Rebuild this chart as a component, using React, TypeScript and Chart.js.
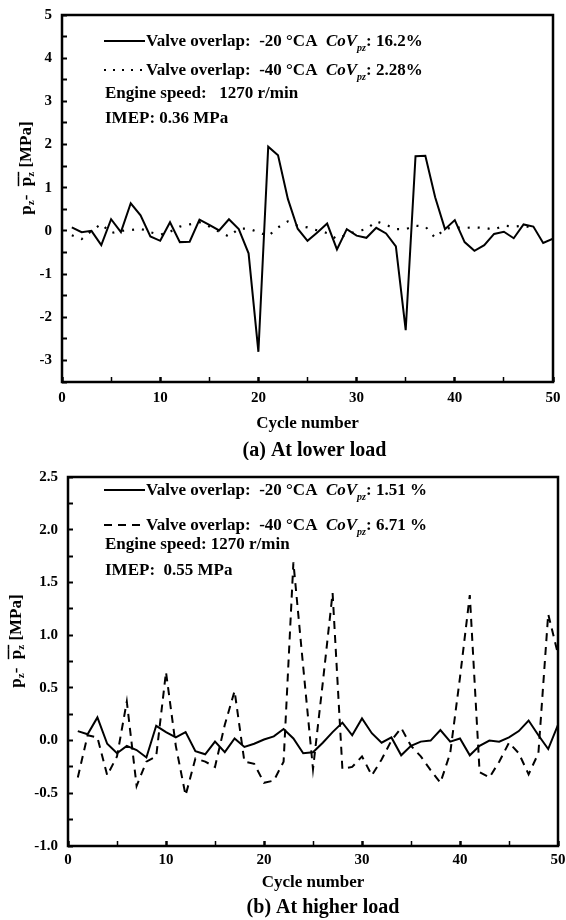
import React, { useEffect, useRef } from 'react';
import { Chart, registerables } from 'chart.js';

Chart.register(...registerables);

// ---------------- data ----------------
const cycles = [
  1, 2, 3, 4, 5, 6, 7, 8, 9, 10,
  11, 12, 13, 14, 15, 16, 17, 18, 19, 20,
  21, 22, 23, 24, 25, 26, 27, 28, 29, 30,
  31, 32, 33, 34, 35, 36, 37, 38, 39, 40,
  41, 42, 43, 44, 45, 46, 47, 48, 49, 50,
];

// (a) lower load, valve overlap -20 °CA (solid)
const lowLoadOverlap20 = [
  0.08, -0.03, 0.0, -0.33, 0.27, -0.03, 0.64, 0.36, -0.13, -0.23,
  0.2, -0.26, -0.25, 0.26, 0.14, 0.01, 0.27, 0.04, -0.52, -2.8,
  1.95, 1.75, 0.74, 0.05, -0.23, -0.04, 0.17, -0.43, 0.04, -0.11,
  -0.16, 0.07, -0.06, -0.36, -2.3, 1.73, 1.74, 0.78, 0.04, 0.25,
  -0.26, -0.46, -0.33, -0.07, -0.02, -0.17, 0.15, 0.1, -0.28, -0.18,
];

// (a) lower load, valve overlap -40 °CA (dotted)
const lowLoadOverlap40 = [
  -0.1, -0.19, 0.0, 0.16, -0.05, 0.0, 0.02, 0.05, -0.03, -0.09,
  -0.02, 0.1, 0.15, 0.2, 0.1, -0.02, -0.13, 0.05, 0.05, -0.03,
  -0.12, 0.08, 0.22, 0.12, 0.08, 0.01, -0.05, -0.19, -0.08, -0.01,
  0.04, 0.22, 0.14, 0.04, 0.04, 0.12, 0.1, -0.16, 0.05, 0.08,
  0.07, 0.08, 0.07, 0.03, 0.12, 0.1, 0.12, 0.06,
];

// (b) higher load, valve overlap -20 °CA (solid)
const highLoadOverlap20 = [
  0.09, 0.06, 0.22, -0.03, -0.12, -0.05, -0.09, -0.16, 0.14, 0.08,
  0.03, 0.08, -0.1, -0.13, -0.01, -0.11, 0.02, -0.06, -0.03, 0.01,
  0.04, 0.11, 0.02, -0.12, -0.11, -0.02, 0.08, 0.17, 0.05, 0.21,
  0.07, -0.02, 0.03, -0.14, -0.05, -0.01, 0.0, 0.1, -0.01, 0.02,
  -0.14, -0.05, 0.0, -0.01, 0.03, 0.09, 0.19, 0.05, -0.08, 0.15,
];

// (b) higher load, valve overlap -40 °CA (dashed)
const highLoadOverlap40 = [
  -0.35, 0.05, 0.03, -0.33, -0.15, 0.37, -0.43, -0.2, -0.15, 0.65,
  -0.05, -0.52, -0.17, -0.2, -0.25, 0.15, 0.47, -0.2, -0.22, -0.4,
  -0.38, -0.2, 1.69, 0.7, -0.27, 0.55, 1.4, -0.27, -0.25, -0.15,
  -0.33, -0.18, 0.0, 0.12, -0.05, -0.15, -0.28, -0.4, -0.12, 0.6,
  1.38, -0.3, -0.35, -0.2, -0.02, -0.12, -0.32, -0.12, 1.2, 0.82,
];

const xTickLabels = [0, 10, 20, 30, 40, 50];
const lowLoadYTicks = [5, 4, 3, 2, 1, 0, -1, -2, -3];
const highLoadYTicks = [2.5, 2.0, 1.5, 1.0, 0.5, 0.0, -0.5, -1.0];

const lowLoadCov = ['16.2%', '2.28%'];
const highLoadCov = ['1.51 %', '6.71 %'];

// ---------------- drawing helpers ----------------
const SERIF = '"Liberation Serif", "Times New Roman", Times, serif';
const LEGEND_SIZE = 17;

type Run = { t: string; italic?: boolean; size?: number; dy?: number; overline?: boolean };

function fontStr(size: number, italic?: boolean) {
  return `${italic ? 'italic ' : ''}bold ${size}px ${SERIF}`;
}

function runsWidth(ctx: CanvasRenderingContext2D, runs: Run[], base: number) {
  let w = 0;
  for (const r of runs) {
    ctx.font = fontStr(r.size ?? base, r.italic);
    w += ctx.measureText(r.t).width;
  }
  return w;
}

function drawRuns(ctx: CanvasRenderingContext2D, x: number, y: number, runs: Run[], base: number) {
  let cx = x;
  for (const r of runs) {
    const size = r.size ?? base;
    ctx.font = fontStr(size, r.italic);
    ctx.fillText(r.t, cx, y + (r.dy ?? 0));
    const w = ctx.measureText(r.t).width;
    if (r.overline) {
      ctx.fillRect(cx, y - base * 0.78, w, 1.5);
    }
    cx += w;
  }
}

const yTitleRuns: Run[] = [
  { t: 'p' },
  { t: 'z', size: 11, dy: 3 },
  { t: '-  ' },
  { t: 'p', overline: true },
  { t: 'z', size: 11, dy: 3, overline: true },
  { t: ' [MPa]' },
];

type Sample = { dash: number[]; y: number };
type LegendRow = { x: number; y: number; runs: Run[]; sample?: Sample };

type Panel = {
  id: string;
  series: { values: number[]; dash: number[]; width: number }[];
  yMin: number;
  yMax: number;
  yStep: number;
  yLabels: number[];
  yFmt: (v: number) => string;
  top: number;
  padRight: number;
  yAxisWidth: number;
  xAxisHeight: number;
  xTickPad: number;
  yTickPad: number;
  xTitlePad: number;
  yTitle: { x: number; y: number };
  caption: string;
  captionY: number;
  captionShift: number;
  legend: LegendRow[];
};

function covRuns(prefix: string, value: string): Run[] {
  return [
    { t: prefix },
    { t: 'CoV', italic: true },
    { t: 'pz', italic: true, size: 10, dy: 5 },
    { t: ': ' + value },
  ];
}

function decorPlugin(p: Panel) {
  return {
    id: 'decor' + p.id,
    afterDraw(chart: Chart) {
      const { ctx, chartArea: a } = chart;
      ctx.save();
      ctx.strokeStyle = '#000';
      ctx.fillStyle = '#000';
      ctx.lineWidth = 2.5;
      ctx.setLineDash([]);
      ctx.strokeRect(a.left, a.top, a.right - a.left, a.bottom - a.top);

      ctx.textAlign = 'left';
      ctx.textBaseline = 'alphabetic';
      for (const row of p.legend) {
        if (row.sample) {
          ctx.beginPath();
          ctx.lineWidth = 2;
          ctx.setLineDash(row.sample.dash);
          ctx.moveTo(row.x - 42, row.sample.y);
          ctx.lineTo(row.x - 1, row.sample.y);
          ctx.stroke();
          ctx.setLineDash([]);
        }
        drawRuns(ctx, row.x, row.y, row.runs, LEGEND_SIZE);
      }

      ctx.save();
      ctx.translate(p.yTitle.x, p.yTitle.y);
      ctx.rotate(-Math.PI / 2);
      const w = runsWidth(ctx, yTitleRuns, 17);
      drawRuns(ctx, -w / 2, 5, yTitleRuns, 17);
      ctx.restore();

      ctx.font = fontStr(20);
      ctx.textAlign = 'center';
      ctx.textBaseline = 'middle';
      ctx.fillText(p.caption, (a.left + a.right) / 2 + p.captionShift, p.captionY);
      ctx.restore();
    },
  };
}

function matchLabel(labels: number[], v: number) {
  return labels.find((l) => Math.abs(l - v) < 1e-6);
}

function makeConfig(p: Panel): any {
  return {
    type: 'line',
    data: {
      datasets: p.series.map((s) => ({
        data: s.values.map((v, i) => ({ x: cycles[i], y: v })),
        borderColor: '#000',
        borderWidth: s.width,
        borderDash: s.dash,
        pointRadius: 0,
        pointHoverRadius: 0,
        tension: 0,
        fill: false,
      })),
    },
    options: {
      responsive: false,
      animation: false,
      events: [],
      layout: { padding: { left: 0, top: p.top, right: p.padRight, bottom: 0 } },
      plugins: {
        legend: { display: false },
        tooltip: { enabled: false },
        title: { display: false },
      },
      scales: {
        x: {
          type: 'linear',
          min: 0,
          max: 50,
          border: { display: false },
          grid: {
            drawOnChartArea: false,
            drawTicks: true,
            tickLength: -5,
            tickColor: '#000',
            tickWidth: (c: any) => (c.tick && c.tick.value % 10 === 0 ? 2.5 : 1.5),
          },
          ticks: {
            stepSize: 5,
            autoSkip: false,
            maxRotation: 0,
            padding: p.xTickPad,
            color: '#000',
            font: { family: SERIF, size: 15, weight: 'bold' },
            callback: (v: number) => {
              const t = matchLabel(xTickLabels, v);
              return t === undefined ? '' : String(t);
            },
          },
          title: {
            display: true,
            text: 'Cycle number',
            color: '#000',
            font: { family: SERIF, size: 17, weight: 'bold' },
            padding: { top: 0, bottom: p.xTitlePad },
          },
          afterFit: (axis: any) => {
            axis.height = p.xAxisHeight;
            axis.paddingLeft = 0;
            axis.paddingRight = 0;
          },
        },
        y: {
          type: 'linear',
          min: p.yMin,
          max: p.yMax,
          border: { display: false },
          grid: {
            drawOnChartArea: false,
            drawTicks: true,
            tickLength: -5,
            tickColor: '#000',
            tickWidth: 2,
          },
          ticks: {
            stepSize: p.yStep,
            autoSkip: false,
            padding: p.yTickPad,
            color: '#000',
            font: { family: SERIF, size: 15, weight: 'bold' },
            callback: (v: number) => {
              const t = matchLabel(p.yLabels, v);
              return t === undefined ? '' : p.yFmt(t);
            },
          },
          afterFit: (axis: any) => {
            axis.width = p.yAxisWidth;
            axis.paddingTop = 0;
            axis.paddingBottom = 0;
          },
        },
      },
    },
    plugins: [decorPlugin(p)],
  };
}

const lowPanel: Panel = {
  id: 'a',
  series: [
    { values: lowLoadOverlap20, dash: [], width: 2 },
    { values: lowLoadOverlap40, dash: [2, 8], width: 2.2 },
  ],
  yMin: -3.5,
  yMax: 5,
  yStep: 0.5,
  yLabels: lowLoadYTicks,
  yFmt: (v) => String(v),
  top: 15,
  padRight: 13,
  yAxisWidth: 62,
  xAxisHeight: 78,
  xTickPad: 12,
  yTickPad: 15,
  xTitlePad: 26,
  yTitle: { x: 26, y: 168 },
  caption: '(a) At lower load',
  captionY: 451,
  captionShift: 7,
  legend: [
    { x: 146, y: 46, sample: { dash: [], y: 41 }, runs: covRuns('Valve overlap:  -20 °CA  ', lowLoadCov[0]) },
    { x: 146, y: 75, sample: { dash: [2, 7], y: 70 }, runs: covRuns('Valve overlap:  -40 °CA  ', lowLoadCov[1]) },
    { x: 105, y: 98, runs: [{ t: 'Engine speed:   1270 r/min' }] },
    { x: 105, y: 123, runs: [{ t: 'IMEP: 0.36 MPa' }] },
  ],
};

const highPanel: Panel = {
  id: 'b',
  series: [
    { values: highLoadOverlap20, dash: [], width: 2 },
    { values: highLoadOverlap40, dash: [8, 6], width: 2 },
  ],
  yMin: -1,
  yMax: 2.5,
  yStep: 0.25,
  yLabels: highLoadYTicks,
  yFmt: (v) => v.toFixed(1),
  top: 17,
  padRight: 8,
  yAxisWidth: 68,
  xAxisHeight: 74,
  xTickPad: 10,
  yTickPad: 15,
  xTitlePad: 27,
  yTitle: { x: 16, y: 181 },
  caption: '(b) At higher load',
  captionY: 448,
  captionShift: 10,
  legend: [
    { x: 146, y: 35, sample: { dash: [], y: 30 }, runs: covRuns('Valve overlap:  -20 °CA  ', highLoadCov[0]) },
    { x: 146, y: 70, sample: { dash: [8, 6], y: 65 }, runs: covRuns('Valve overlap:  -40 °CA  ', highLoadCov[1]) },
    { x: 105, y: 89, runs: [{ t: 'Engine speed: 1270 r/min' }] },
    { x: 105, y: 115, runs: [{ t: 'IMEP:  0.55 MPa' }] },
  ],
};

export default function App() {
  const refA = useRef<HTMLCanvasElement>(null);
  const refB = useRef<HTMLCanvasElement>(null);

  useEffect(() => {
    const a = new Chart(refA.current as HTMLCanvasElement, makeConfig(lowPanel));
    const b = new Chart(refB.current as HTMLCanvasElement, makeConfig(highPanel));
    return () => {
      a.destroy();
      b.destroy();
    };
  }, []);

  return (
    <div style={{ position: 'absolute', left: 0, top: 0, width: 566, height: 920, background: '#fff' }}>
      <canvas ref={refA} width={566} height={460} style={{ position: 'absolute', left: 0, top: 0 }} />
      <canvas ref={refB} width={566} height={460} style={{ position: 'absolute', left: 0, top: 460 }} />
    </div>
  );
}
